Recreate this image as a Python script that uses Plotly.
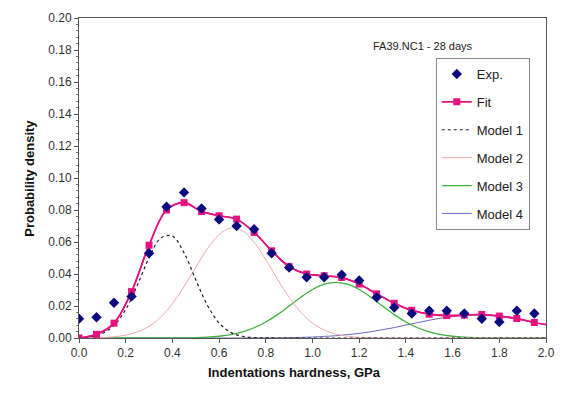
import plotly.graph_objects as go

# Experimental / fitted points
x_pts = [0.0, 0.075, 0.15, 0.225, 0.3, 0.375, 0.45, 0.525, 0.6, 0.675, 0.75, 0.825, 0.9, 0.975,
         1.05, 1.125, 1.2, 1.275, 1.35, 1.425, 1.5, 1.575, 1.65, 1.725, 1.8, 1.875, 1.95]
exp_vals = [0.012, 0.013, 0.022, 0.026, 0.053, 0.082, 0.091, 0.081, 0.074, 0.070, 0.068, 0.053, 0.044, 0.038,
            0.038, 0.0395, 0.036, 0.0255, 0.019, 0.0153, 0.017, 0.017, 0.0153, 0.012, 0.010, 0.017, 0.0153]
fit_vals = [0.0, 0.0023, 0.0093, 0.029, 0.058, 0.080, 0.0846, 0.079, 0.0764, 0.0743, 0.066, 0.0545, 0.0446, 0.040,
            0.0389, 0.0378, 0.0337, 0.0276, 0.0217, 0.0173, 0.0149, 0.014, 0.0143, 0.0147, 0.0137, 0.0122, 0.0097]
fit_end_x = 2.0
fit_end_val = 0.0085

# Model component curves (read along a 0.05 grid)
x_grid = [round(i * 0.05, 2) for i in range(41)]
model1 = [0.0002, 0.0008, 0.0028, 0.0079, 0.0178, 0.0330, 0.0501, 0.0624, 0.0637, 0.0532,
          0.0364, 0.0204, 0.0094, 0.0035, 0.0011, 0.0003, 0.0001, 0, 0, 0,
          0, 0, 0, 0, 0, 0, 0, 0, 0, 0,
          0, 0, 0, 0, 0, 0, 0, 0, 0, 0, 0]
model2 = [0.0, 0.0001, 0.0003, 0.0008, 0.0018, 0.0038, 0.0073, 0.0130, 0.0214, 0.0321,
          0.0442, 0.0558, 0.0646, 0.0687, 0.0669, 0.0598, 0.0490, 0.0368, 0.0254, 0.0161,
          0.0093, 0.0050, 0.0024, 0.0011, 0.0004, 0.0002, 0.0001, 0, 0, 0,
          0, 0, 0, 0, 0, 0, 0, 0, 0, 0, 0]
model3 = [0, 0, 0, 0, 0, 0, 0, 0, 0, 0.0001,
          0.0002, 0.0005, 0.0011, 0.0021, 0.0038, 0.0064, 0.0100, 0.0146, 0.0200, 0.0255,
          0.0303, 0.0336, 0.0348, 0.0336, 0.0303, 0.0255, 0.0200, 0.0146, 0.0100, 0.0064,
          0.0038, 0.0021, 0.0011, 0.0005, 0.0002, 0.0001, 0, 0, 0, 0, 0]
model4 = [0, 0, 0, 0, 0, 0, 0, 0, 0, 0,
          0, 0, 0, 0, 0, 0, 0.0001, 0.0001, 0.0002, 0.0004,
          0.0006, 0.0010, 0.0014, 0.0021, 0.0029, 0.0039, 0.0052, 0.0065, 0.0081, 0.0096,
          0.0111, 0.0124, 0.0134, 0.0141, 0.0143, 0.0141, 0.0134, 0.0124, 0.0111, 0.0096, 0.0081]

x_ticks = [0.0, 0.2, 0.4, 0.6, 0.8, 1.0, 1.2, 1.4, 1.6, 1.8, 2.0]
y_ticks = [0.00, 0.02, 0.04, 0.06, 0.08, 0.10, 0.12, 0.14, 0.16, 0.18, 0.20]

FONT = "Liberation Sans, Arial, sans-serif"
FIT_COLOR = "#E8117F"

fig = go.Figure()

# model curves
fig.add_trace(go.Scatter(x=x_grid, y=model4, mode="lines", name="Model 4", legendgroup="m4", legendrank=6,
                         line=dict(color="#6A6AC8", width=1, shape="spline")))
fig.add_trace(go.Scatter(x=x_grid, y=model3, mode="lines", name="Model 3", legendgroup="m3", legendrank=5,
                         line=dict(color="#3DB03D", width=1.3, shape="spline")))
fig.add_trace(go.Scatter(x=x_grid, y=model2, mode="lines", name="Model 2", legendgroup="m2", legendrank=4,
                         line=dict(color="#F2AAAA", width=1, shape="spline")))
fig.add_trace(go.Scatter(x=x_grid, y=model1, mode="lines", name="Model 1", legendgroup="m1", legendrank=3,
                         line=dict(color="#222222", width=1.2, dash="dot", shape="spline")))

# fit line including the tail to 2.0
fig.add_trace(go.Scatter(x=x_pts + [fit_end_x], y=fit_vals + [fit_end_val], mode="lines", showlegend=False,
                         line=dict(color=FIT_COLOR, width=1.6, shape="spline"), hoverinfo="skip"))
fig.add_trace(go.Scatter(x=x_pts, y=fit_vals, mode="lines+markers", name="Fit", legendgroup="fit", legendrank=2,
                         line=dict(color=FIT_COLOR, width=1.6, shape="spline"),
                         marker=dict(symbol="square", size=7, color=FIT_COLOR)))
fig.add_trace(go.Scatter(x=x_pts, y=exp_vals, mode="markers", name="Exp.", legendgroup="exp", legendrank=1,
                         marker=dict(symbol="diamond", size=8, color="#0A0A80")))

axis_common = dict(showline=True, linecolor="#555555", linewidth=1, mirror=True, showgrid=False,
                   zeroline=False, ticks="outside", ticklen=4, tickcolor="#555555",
                   tickfont=dict(family=FONT, size=12, color="#333333"))

fig.update_xaxes(range=[0, 2.0], tickvals=x_ticks, ticktext=[f"{v:.1f}" for v in x_ticks], **axis_common)
fig.update_yaxes(range=[0, 0.2], tickvals=y_ticks, ticktext=[f"{v:.2f}" for v in y_ticks],
                 minor=dict(dtick=0.004, ticks="outside", ticklen=2, tickcolor="#777777"), **axis_common)

fig.update_layout(
    width=566, height=398,
    margin=dict(l=79, r=17, t=11, b=60),
    paper_bgcolor="white", plot_bgcolor="white",
    font=dict(family=FONT, size=13, color="#222222"),
    legend=dict(x=0.764, y=0.875, xanchor="left", yanchor="top",
                bordercolor="#888888", borderwidth=1, bgcolor="white",
                traceorder="grouped", tracegroupgap=8, itemwidth=30,
                font=dict(family=FONT, size=13, color="#222222")),
    annotations=[
        dict(text="FA39.NC1 - 28 days", xref="paper", yref="paper", x=0.848, y=0.939,
             showarrow=False, font=dict(family=FONT, size=11, color="#222222")),
        dict(text="<b>Indentations hardness, GPa</b>", xref="paper", yref="paper", x=0.462, y=-0.137,
             showarrow=False, font=dict(family=FONT, size=13, color="#111111")),
        dict(text="<b>Probability density</b>", xref="paper", yref="paper", x=-0.128, y=0.5,
             textangle=-90, showarrow=False, font=dict(family=FONT, size=13, color="#111111")),
    ],
)

fig.write_html("out.html")
